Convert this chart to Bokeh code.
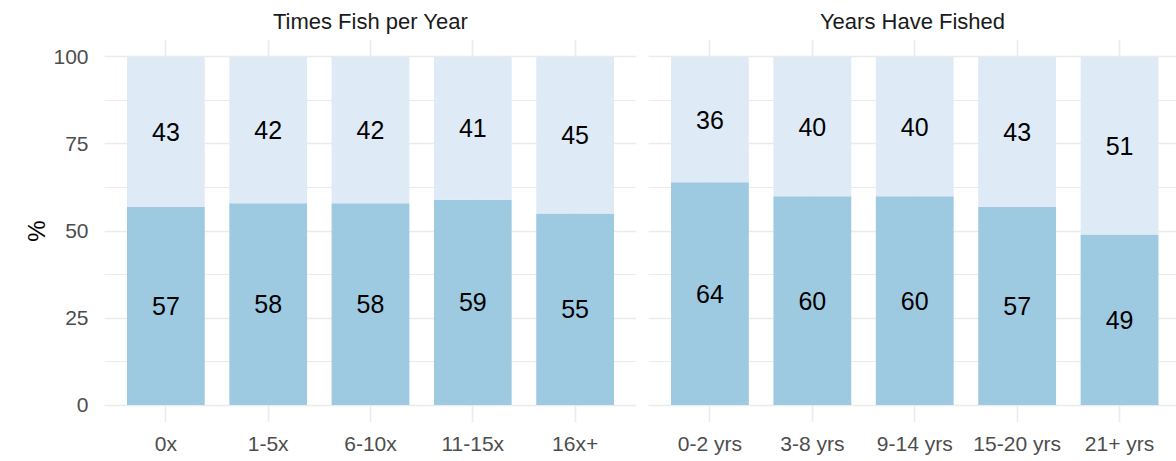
from bokeh.plotting import figure
from bokeh.layouts import row
from bokeh.models import Range1d, FixedTicker, SingleIntervalTicker, ColumnDataSource
from bokeh.core.properties import value
from bokeh.embed import file_html
from bokeh.resources import INLINE

# ---- data ----
times_cats = ["0x", "1-5x", "6-10x", "11-15x", "16x+"]
times_yes = [57, 58, 58, 59, 55]
times_no = [43, 42, 42, 41, 45]

years_cats = ["0-2 yrs", "3-8 yrs", "9-14 yrs", "15-20 yrs", "21+ yrs"]
years_yes = [64, 60, 60, 57, 49]
years_no = [36, 40, 40, 43, 51]

DARK = "#9ECAE1"
LIGHT = "#DEEBF7"
GRID = "#EBEBEB"
FONT = "Liberation Sans"


def panel(title, cats, yes, no, frame_w, x_end, show_y):
    p = figure(
        output_backend="svg", toolbar_location=None,
        frame_width=frame_w, frame_height=383,
        x_range=Range1d(0.4, x_end), y_range=Range1d(-5, 105),
        min_border_left=104 if show_y else 0,
        min_border_right=12 if show_y else 0,
        min_border_top=38, min_border_bottom=40,
        title=title,
    )
    p.outline_line_color = None
    p.background_fill_color = "white"
    p.border_fill_color = "white"

    xs = list(range(1, len(cats) + 1))
    src = ColumnDataSource(dict(
        x=xs,
        yes_top=yes,
        no_bottom=yes,
        no_top=[a + b for a, b in zip(yes, no)],
        yes_mid=[a / 2 for a in yes],
        no_mid=[a + b / 2 for a, b in zip(yes, no)],
        yes_lbl=[str(v) for v in yes],
        no_lbl=[str(v) for v in no],
    ))
    p.vbar(x="x", bottom=0, top="yes_top", width=0.76, source=src,
           fill_color=DARK, line_color=None)
    p.vbar(x="x", bottom="no_bottom", top="no_top", width=0.76, source=src,
           fill_color=LIGHT, line_color=None)
    p.text(x="x", y="yes_mid", text="yes_lbl", source=src,
           text_align="center", text_baseline="middle",
           text_font=value(FONT), text_font_size="25px", text_color="#000000")
    p.text(x="x", y="no_mid", text="no_lbl", source=src,
           text_align="center", text_baseline="middle",
           text_font=value(FONT), text_font_size="25px", text_color="#000000")

    # title (facet strip)
    p.title.align = "center"
    p.title.text_font = FONT
    p.title.text_font_size = "22px"
    p.title.text_font_style = "normal"
    p.title.text_color = "#1A1A1A"
    p.title.standoff = 12
    p.title.offset = 0

    # x axis
    p.xaxis.ticker = FixedTicker(ticks=xs)
    p.xaxis.major_label_overrides = {x: c for x, c in zip(xs, cats)}
    p.xaxis.axis_line_color = None
    p.xaxis.major_tick_line_color = None
    p.xaxis.minor_tick_line_color = None
    p.xaxis.major_tick_out = 0
    p.xaxis.major_tick_in = 0
    p.xaxis.major_label_standoff = 9
    p.xaxis.major_label_text_font = FONT
    p.xaxis.major_label_text_font_size = "21px"
    p.xaxis.major_label_text_color = "#4D4D4D"

    # y axis
    yt = SingleIntervalTicker(interval=25, num_minor_ticks=2)
    p.yaxis.ticker = yt
    p.ygrid.ticker = yt
    p.yaxis.axis_line_color = None
    p.yaxis.major_tick_line_color = None
    p.yaxis.minor_tick_line_color = None
    p.yaxis.major_tick_out = 0
    p.yaxis.major_tick_in = 0
    p.yaxis.major_label_standoff = 12
    p.yaxis.major_label_text_font = FONT
    p.yaxis.major_label_text_font_size = "21px"
    p.yaxis.major_label_text_color = "#4D4D4D"
    if show_y:
        p.yaxis.axis_label = "%"
        p.yaxis.axis_label_text_font = FONT
        p.yaxis.axis_label_text_font_size = "24px"
        p.yaxis.axis_label_text_font_style = "normal"
        p.yaxis.axis_label_text_color = "#000000"
        p.yaxis.axis_label_standoff = 0
    else:
        p.yaxis.visible = False

    # grid
    p.xgrid.grid_line_color = GRID
    p.xgrid.grid_line_width = 1.6
    p.ygrid.grid_line_color = GRID
    p.ygrid.grid_line_width = 1.6
    p.ygrid.minor_grid_line_color = GRID
    p.ygrid.minor_grid_line_width = 1.0
    return p


p1 = panel("Times Fish per Year", times_cats, times_yes, times_no, 532, 5.6, True)
p2 = panel("Years Have Fished", years_cats, years_yes, years_no, 528, 0.4 + 528 / 102.4, False)

layout = row(p1, p2, spacing=0)
open("out.html", "w").write(file_html(layout, INLINE))
